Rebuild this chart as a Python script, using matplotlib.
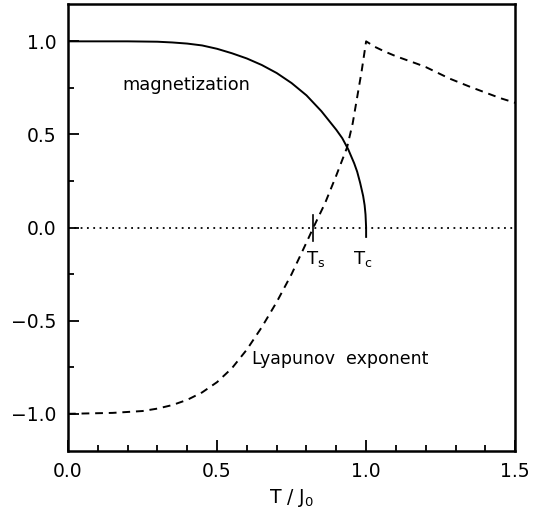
import matplotlib
matplotlib.use("Agg")
import matplotlib.pyplot as plt
from matplotlib.ticker import MultipleLocator

# magnetization (solid), values
mag_T = [0.0, 0.2, 0.3, 0.35, 0.4, 0.45, 0.5, 0.55, 0.6, 0.65, 0.7, 0.75,
         0.8, 0.85, 0.9, 0.92, 0.94, 0.96, 0.97, 0.98, 0.99, 0.995, 0.998, 1.0, 1.0]
mag_m = [1.0, 1.0, 0.998, 0.994, 0.988, 0.978, 0.96, 0.936, 0.908, 0.873, 0.83, 0.776,
         0.71, 0.625, 0.525, 0.48, 0.42, 0.345, 0.30, 0.24, 0.17, 0.12, 0.07, 0.0, -0.05]

# Lyapunov exponent (dashed)
lyap_T = [0.0, 0.15, 0.25, 0.3, 0.35, 0.4, 0.45, 0.5, 0.55, 0.6, 0.65, 0.7,
          0.75, 0.8, 0.823, 0.862, 0.9, 0.936, 0.955, 0.97, 0.985, 1.0,
          1.03, 1.06, 1.1, 1.17, 1.2, 1.28, 1.35, 1.4, 1.45, 1.5]
lyap_L = [-1.0, -0.995, -0.985, -0.972, -0.953, -0.925, -0.885, -0.83, -0.755, -0.655, -0.535, -0.40,
          -0.25, -0.08, 0.0, 0.13, 0.28, 0.43, 0.56, 0.70, 0.84, 1.0,
          0.97, 0.947, 0.92, 0.88, 0.862, 0.80, 0.755, 0.725, 0.695, 0.67]

Ts = 0.823
Tc = 1.0

fig = plt.figure(figsize=(5.35, 5.12), dpi=100)
ax = fig.add_axes([0.127, 0.119, 0.836, 0.873])

ax.axhline(0.0, color="black", linestyle=(0, (1, 2.5)), linewidth=1.3)
ax.plot(mag_T, mag_m, color="black", linewidth=1.4)
ax.plot(lyap_T, lyap_L, color="black", linewidth=1.4, linestyle=(0, (4, 3)))
ax.plot([Ts, Ts], [-0.07, 0.07], color="black", linewidth=1.2)

ax.text(0.396, 0.766, "magnetization", fontsize=12.8, ha="center", va="center")
ax.text(0.913, -0.707, "Lyapunov  exponent", fontsize=12.5, ha="center", va="center")
ax.text(0.80, -0.115, r"T$_\mathregular{s}$", fontsize=13, ha="left", va="top")
ax.text(0.955, -0.115, r"T$_\mathregular{c}$", fontsize=13, ha="left", va="top")

ax.set_xlim(0.0, 1.5)
ax.set_ylim(-1.2, 1.2)
ax.set_xticks([0.0, 0.5, 1.0, 1.5])
ax.set_yticks([-1.0, -0.5, 0.0, 0.5, 1.0])
ax.set_xticklabels(["0.0", "0.5", "1.0", "1.5"])
ax.set_yticklabels(["\u22121.0", "\u22120.5", "0.0", "0.5", "1.0"])
ax.xaxis.set_minor_locator(MultipleLocator(0.1))
ax.yaxis.set_minor_locator(MultipleLocator(0.25))
ax.tick_params(which="both", direction="in", top=False, right=False,
               labelsize=13.5, width=1.3)
ax.tick_params(which="major", length=8, pad=8)
ax.tick_params(which="minor", length=4)
for s in ax.spines.values():
    s.set_linewidth(1.8)

ax.set_xlabel(r"T / J$_\mathregular{0}$", fontsize=13.5, labelpad=4)

fig.savefig("out.png", dpi=100)
